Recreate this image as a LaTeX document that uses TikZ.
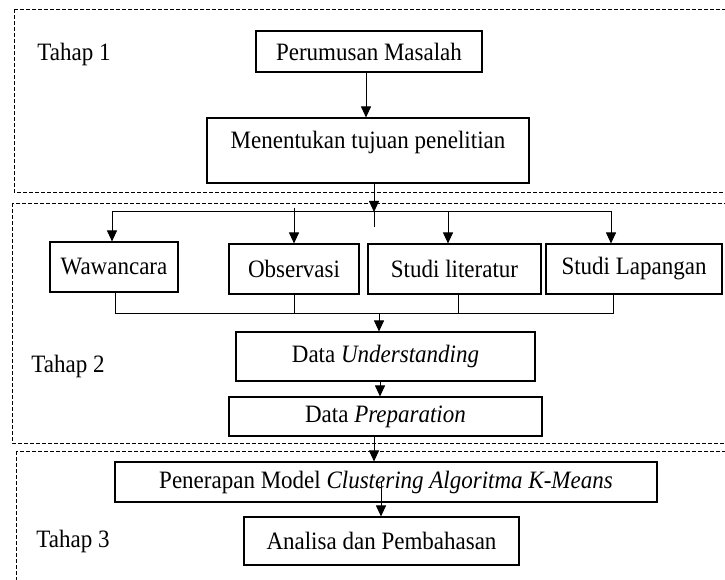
\documentclass[tikz,border=0pt]{standalone}
\usepackage{fontspec}
\setmainfont{Liberation Serif}[FakeStretch=0.92]
\usetikzlibrary{arrows.meta,calc}
\begin{document}
\begin{tikzpicture}[x=1pt,y=-1pt,
  box/.style={draw,line width=1.1pt,inner sep=0pt,align=center,font=\fontsize{25}{29}\selectfont},
  lbl/.style={inner sep=0pt,font=\fontsize{25}{29}\selectfont},
  dashbox/.style={draw,line width=0.8pt,dash pattern=on 4pt off 2pt},
  arr/.style={line width=0.9pt,-{Triangle[length=11pt,width=10pt]}},
  ln/.style={line width=0.9pt}]
\useasboundingbox (0,0) rectangle (725,580);
\clip (0,0) rectangle (725,580);
% stage frames
\draw[dashbox] (14,9) rectangle (760,192);
\draw[dashbox] (12,203) rectangle (760,443);
\draw[dashbox] (16,451) rectangle (760,620);
% stage labels
\node[lbl] (t1) at (74,54) {Tahap 1};
\node[lbl] (t2) at (68,366) {Tahap 2};
\node[lbl] (t3) at (73,541) {Tahap 3};
% boxes
\node[box,minimum width=226pt,minimum height=41pt] (pm) at (369,51.5) {Perumusan Masalah};
\node[box,minimum width=322pt,minimum height=65pt,text depth=21pt] (mt) at (368,150.5) {Menentukan tujuan penelitian};
\node[box,minimum width=128pt,minimum height=50pt] (ww) at (114,267) {Wawancara};
\node[box,minimum width=130pt,minimum height=50pt] (ob) at (294,269) {Observasi};
\node[box,minimum width=173pt,minimum height=50pt] (st) at (454.5,269) {Studi literatur};
\node[box,minimum width=176pt,minimum height=50pt] (sl) at (634,269) {Studi Lapangan};
\node[box,minimum width=299pt,minimum height=49pt] (du) at (385.5,356.5) {Data \textit{Understanding}};
\node[box,minimum width=313pt,minimum height=39pt] (dp) at (385.5,416.5) {Data \textit{Preparation}};
\node[box,minimum width=542pt,minimum height=40pt] (pen) at (386,482) {Penerapan Model \textit{Clustering Algoritma K-Means}};
\node[box,minimum width=275pt,minimum height=48pt] (ana) at (381.5,541) {Analisa dan Pembahasan};
% connectors stage 1
\draw[arr] (pm.south -| 366,0) -- (mt.north -| 366,0);
\coordinate (j1) at (374,212);
\coordinate (j1b) at (374,227);
\draw[arr] (mt.south -| j1) -- (j1);
\draw[ln] (j1) -- (j1b);
% fan-out
\coordinate (hl) at (112,211);
\coordinate (hr) at (611,211);
\coordinate (h3) at (448,211);
\draw[ln] (hl) -- (hr);
\draw[arr] (hl) -- (hl |- ww.north);
\draw[arr] ($(ob.north |- hl)+(0,-3)$) -- (ob.north);
\draw[arr] (h3) -- (h3 |- st.north);
\draw[arr] (hr) -- (hr |- sl.north);
% fan-in
\coordinate (bl) at (115,313);
\coordinate (br) at (613,313);
\coordinate (b2) at (294,313);
\coordinate (b3) at (458,313);
\coordinate (bm) at (379,313);
\draw[ln] (ww.south -| bl) -- (bl) -- (br) -- (br |- sl.south);
\draw[ln] (ob.south) -- (b2);
\draw[ln] (st.south -| b3) -- (b3);
\draw[arr] (bm) -- (bm |- du.north);
% stage 2 / 3
\coordinate (c1) at (380,0);
\draw[arr] (du.south -| c1) -- (dp.north -| c1);
\coordinate (c2) at (374,0);
\draw[arr] (dp.south -| c2) -- (pen.north -| c2);
\coordinate (c3) at (381,0);
\draw[arr] (pen.center -| c3) -- (ana.north -| c3);
\end{tikzpicture}
\end{document}
